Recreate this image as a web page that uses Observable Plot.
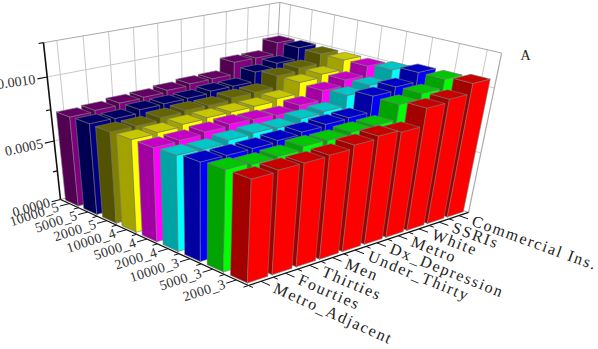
<!DOCTYPE html>
<html><head><meta charset="utf-8">
<style>html,body{margin:0;padding:0;background:#fff}
.ulab text{letter-spacing:1.7px}.vlab text{letter-spacing:.3px}</style>
<script src="https://cdn.jsdelivr.net/npm/d3@7"></script>
<script src="https://cdn.jsdelivr.net/npm/@observablehq/plot@0.6"></script>
</head><body><div id="c"></div><script>
const categories=["Metro_Adjacent","Fourties","Thirties","Men","Under_Thirty","Dx_Depression","Metro","White","SSRIs","Commercial Ins."];
const seriesNames=["2000_3","5000_3","10000_3","2000_4","5000_4","10000_4","2000_5","5000_5","10000_5"];
const seriesColors=["#ff0000","#00ff00","#0000ff","#00ffff","#ff00ff","#ffff00","#808000","#000080","#800080"];
const v2000_3=[.000782,.000794,.000794,.000802,.000827,.000846,.00083,.000961,.000985,.00106];
const v5000_3=[.000781,.000768,.000777,.000802,.000799,.000815,.00082,.000933,.000974,.00104];
const v10000_3=[.000768,.000767,.00077,.000783,.0008,.000813,.00082,.00094,.00097,.00104];
const v2000_4=[.000751,.000748,.000768,.000777,.00077,.000798,.000811,.000892,.00093,.00101];
const v5000_4=[.000744,.000752,.000769,.000783,.000776,.000766,.000802,.000876,.00092,.00099];
const v10000_4=[.000742,.00075,.000768,.000776,.000777,.00078,.0008,.000888,.000915,.00099];
const v2000_5=[.000739,.00074,.000762,.000775,.000773,.000793,.000798,.000889,.000915,.00099];
const v5000_5=[.000743,.00074,.000767,.000772,.000776,.000793,.000794,.00087,.000905,.000995];
const v10000_5=[.000737,.000747,.000763,.00077,.000785,.0008,.000803,.0009,.0009,.00099];
const rows=[v2000_3,v5000_3,v10000_3,v2000_4,v5000_4,v10000_4,v2000_5,v5000_5,v10000_5];
const zTicks=[0,.0005,.001], zMinor=[.00025,.00075,.00125];

// camera: vanishing points of the three axes + floor corner
const O=[248,285], Vu=[1968,-286], Vv=[-1020,-295], Vw=[201,1500], Lu=.1467, Lv=.1741, Lw=-.1263;
function P(u,v,w){const d=1+u*Lu+v*Lv+w*Lw;
  return [(O[0]+u*Lu*Vu[0]+v*Lv*Vv[0]+w*Lw*Vw[0])/d,(O[1]+u*Lu*Vu[1]+v*Lv*Vv[1]+w*Lw*Vw[1])/d];}
const uS=d3.scaleBand(categories,[0,1]), vS=d3.scaleBand(seriesNames,[0,1]), zS=d3.scaleLinear([0,.00125],[0,1]);
const bw=uS.bandwidth()*.82, bd=vS.bandwidth()*.7;
const shade=(c,k)=>{const r=d3.rgb(c);return d3.rgb(r.r*k,r.g*k,r.b*k).formatHex();};

const faces=[];
function face(id,pts,fill){[...pts,pts[0]].forEach(p=>{const [x,y]=P(...p);faces.push({id,x,y,fill});});}
d3.range(seriesNames.length-1,-1,-1).forEach(j=>{
  d3.range(categories.length-1,-1,-1).forEach(i=>{
    const val=rows[j][i], c=seriesColors[j];
    const u0=uS(categories[i])+uS.bandwidth()*.1,u1=u0+bw,v0=vS(seriesNames[j])+vS.bandwidth()*.15,v1=v0+bd,w=zS(val);
    const id=j+"-"+i;
    face(id+"s",[[u0,v0,0],[u0,v1,0],[u0,v1,w],[u0,v0,w]],shade(c,.64));
    face(id+"f",[[u0,v0,0],[u1,v0,0],[u1,v0,w],[u0,v0,w]],c);
    face(id+"t",[[u0,v0,w],[u1,v0,w],[u1,v1,w],[u0,v1,w]],shade(c,.78));
  });
});
const seg=(a,b,stroke,sw)=>{const p=P(...a),q=P(...b);return {x1:p[0],y1:p[1],x2:q[0],y2:q[1],stroke,sw};};
const links=[];
const G="#c8c8c8",B="#aaaaaa",K="#111";
categories.forEach(c=>{const u=uS(c)+uS.bandwidth()/2;links.push(seg([u,1,0],[u,1,1],G,1));});
seriesNames.forEach(s=>{const v=vS(s)+vS.bandwidth()/2;links.push(seg([1,v,0],[1,v,1],G,1));});
zTicks.filter(t=>t>0).forEach(t=>{const w=zS(t);links.push(seg([0,1,w],[1,1,w],G,1),seg([1,0,w],[1,1,w],G,1));});
links.push(seg([0,1,1],[1,1,1],B,1),seg([1,0,1],[1,1,1],B,1),seg([1,0,0],[1,0,1],B,1.2),seg([1,1,0],[1,1,1],B,1),seg([0,1,0],[1,1,0],B,1),seg([1,0,0],[1,1,0],B,1));
const axes=[seg([0,0,0],[1,0,0],K,1.3),seg([0,0,0],[0,1,0],K,1.3),seg([0,1,0],[0,1,1],K,1.6)];
zTicks.forEach(t=>axes.push(seg([0,1,zS(t)],[-.037,1,zS(t)],K,1.2)));
zMinor.forEach(t=>axes.push(seg([0,1,zS(t)],[-.018,1,zS(t)],K,1.2)));
categories.forEach(c=>{const u=uS(c);axes.push(seg([u+uS.bandwidth()/2,0,0],[u+uS.bandwidth()/2,-.04,0],K,1),seg([u,0,0],[u,-.02,0],K,1));});
seriesNames.forEach(s=>{const v=vS(s);axes.push(seg([0,v+vS.bandwidth()/2,0],[-.04,v+vS.bandwidth()/2,0],K,1),seg([0,v,0],[-.02,v,0],K,1));});

const uLab=categories.map((t,i)=>{const [x,y]=P(uS(t)+uS.bandwidth()/2,-.06,0);return {t,x,y,r:24-.45*i};});
const vLab=seriesNames.map(t=>{const [x,y]=P(-.045,vS(t)+vS.bandwidth()/2,0);return {t,x,y};});
const zLab=zTicks.map(t=>{const [x,y]=P(-.045,1,zS(t));return {t:t.toFixed(4),x,y,r:-16+t*8000};});
const F="Liberation Serif";
const plot=Plot.plot({width:598,height:349,margin:0,
  x:{type:"linear",domain:[0,598],range:[0,598],axis:null},
  y:{type:"linear",domain:[0,349],range:[0,349],axis:null},
  color:{type:"identity"},
  style:{background:"#fff"},
  marks:[
    Plot.link(links,{x1:"x1",y1:"y1",x2:"x2",y2:"y2",stroke:"stroke",strokeWidth:"sw"}),
    Plot.line(faces,{x:"x",y:"y",z:"id",fill:"fill",stroke:"#777",strokeWidth:.6}),
    Plot.link(axes,{x1:"x1",y1:"y1",x2:"x2",y2:"y2",stroke:"stroke",strokeWidth:"sw"}),
    Plot.text(uLab,{x:"x",y:"y",text:"t",rotate:"r",textAnchor:"start",fontFamily:F,fontSize:16,fill:"#222",className:"ulab"}),
    Plot.text(vLab,{x:"x",y:"y",text:"t",rotate:-18,textAnchor:"end",fontFamily:F,fontSize:14,fill:"#333",className:"vlab"}),
    Plot.text(zLab,{x:"x",y:"y",text:"t",rotate:"r",textAnchor:"end",fontFamily:F,fontSize:14,fill:"#333"}),
    Plot.text(["A"],{x:()=>525,y:()=>55,text:d=>d,fontFamily:F,fontSize:14,fill:"#222"})
  ]});
document.getElementById("c").append(plot);
</script></body></html>
